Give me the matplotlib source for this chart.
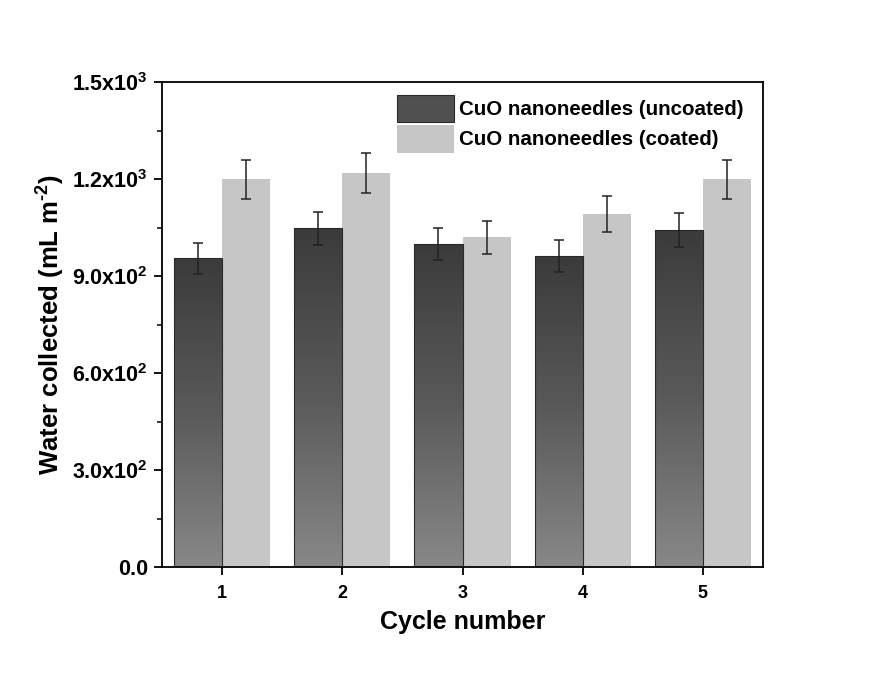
import numpy as np
import matplotlib
matplotlib.use("Agg")
import matplotlib.pyplot as plt
from matplotlib.colors import LinearSegmentedColormap
from matplotlib.patches import Patch

plt.rcParams['font.family'] = ['Liberation Sans', 'DejaVu Sans']
plt.rcParams['font.weight'] = 'bold'
plt.rcParams['mathtext.fontset'] = 'custom'
plt.rcParams['mathtext.rm'] = 'Liberation Sans:bold'
plt.rcParams['mathtext.bf'] = 'Liberation Sans:bold'
plt.rcParams['mathtext.it'] = 'Liberation Sans:bold'

# data
cycles = [1, 2, 3, 4, 5]
uncoated = [955, 1048, 1000, 962, 1044]
uncoated_err = [48, 52, 49, 50, 52]
coated = [1200, 1220, 1021, 1092, 1200]
coated_err = [60, 62, 51, 56, 60]
series_labels = ['CuO nanoneedles (uncoated)', 'CuO nanoneedles (coated)']
ytick_vals = [0, 300, 600, 900, 1200, 1500]
ytick_labels = ['0.0', '3.0x10$^{2}$', '6.0x10$^{2}$', '9.0x10$^{2}$',
                '1.2x10$^{3}$', '1.5x10$^{3}$']

fig = plt.figure(figsize=(8.71, 6.73), dpi=100)
ax = fig.add_axes([0.186, 0.1575, 0.69, 0.72])

x = np.array(cycles, dtype=float)
w = 0.4
light = '#c6c6c6'
grad = LinearSegmentedColormap.from_list('g', ['#3b3b3b', '#5a5a5a', '#888888'])
gimg = np.linspace(0, 1, 256).reshape(-1, 1)

# uncoated bars with vertical gradient
bars_u = ax.bar(x - w / 2, uncoated, width=w, color='none', edgecolor='#2a2a2a',
                linewidth=0.8, zorder=3)
for b in bars_u:
    x0, y0 = b.get_x(), b.get_y()
    bw, bh = b.get_width(), b.get_height()
    im = ax.imshow(gimg, cmap=grad, aspect='auto', origin='upper',
                   extent=[x0, x0 + bw, y0, y0 + bh], zorder=2)
    im.set_clip_path(b)

ax.bar(x + w / 2, coated, width=w, color=light, edgecolor='none', zorder=2)

ax.errorbar(x - w / 2, uncoated, yerr=uncoated_err, fmt='none', ecolor='#222222',
            elinewidth=1.1, capsize=3.6, capthick=1.1, zorder=4)
ax.errorbar(x + w / 2, coated, yerr=coated_err, fmt='none', ecolor='#222222',
            elinewidth=1.1, capsize=3.6, capthick=1.1, zorder=4)

ax.set_xlim(0.5, 5.5)
ax.set_ylim(0, 1500)
ax.set_xticks(x)
ax.set_xticklabels([str(c) for c in cycles], fontsize=13, fontweight='bold')
ax.set_yticks(ytick_vals)
ax.set_yticklabels(ytick_labels, fontsize=15.5, fontweight='bold')
ax.set_yticks([150, 450, 750, 1050, 1350], minor=True)
ax.tick_params(axis='both', which='major', direction='out', length=6, width=1.3,
               pad=4)
ax.tick_params(axis='x', which='major', pad=7)
ax.tick_params(axis='y', which='minor', direction='out', length=3.5, width=1.1)
for s in ax.spines.values():
    s.set_linewidth(1.3)

ax.set_xlabel('Cycle number', fontsize=18, fontweight='bold', labelpad=6)
ax.set_ylabel(r'Water collected (mL m$^{\text{-}2}$)', fontsize=18.5,
              fontweight='bold', labelpad=4)

handles = [Patch(facecolor='#505050', edgecolor='#2a2a2a', linewidth=0.8),
           Patch(facecolor=light, edgecolor='none')]
ax.legend(handles, series_labels, loc='upper right', frameon=False,
          prop={'size': 14.8, 'weight': 'bold'}, handlelength=2.75,
          handleheight=1.7, handletextpad=0.28, labelspacing=0.12,
          borderpad=0, borderaxespad=0, bbox_to_anchor=(0.968, 0.975))

fig.savefig('out.png', dpi=100, facecolor='white')
